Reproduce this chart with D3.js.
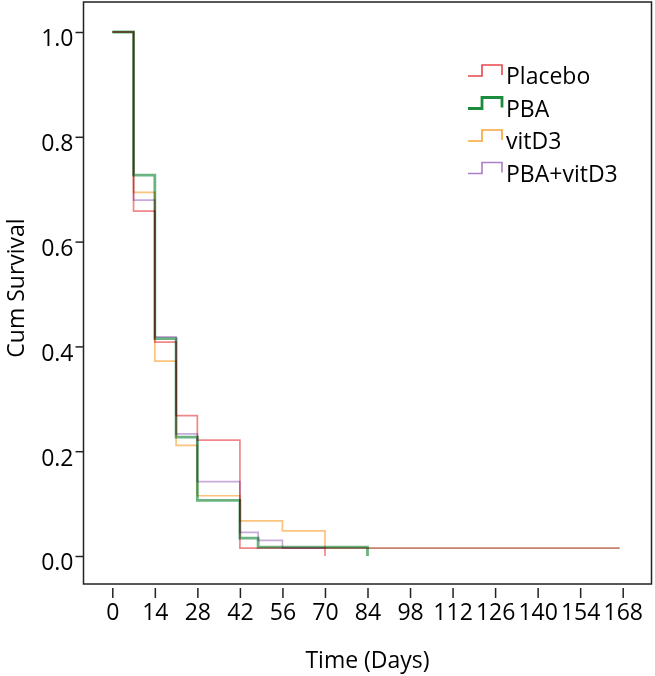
<!DOCTYPE html>
<html>
<head>
<meta charset="utf-8">
<script src="https://cdn.jsdelivr.net/npm/d3@7"></script>
<style>
  body { margin: 0; background: #fff; }
  svg text { font-family: "Open Sans", sans-serif; fill: #000; }
</style>
</head>
<body>
<div id="chart"></div>
<script>
// Kaplan-Meier style step curves
const groups = ['Placebo', 'PBA', 'vitD3', 'PBA+vitD3'];
const colors = ['#e8464b', '#1b8c3e', '#f7a439', '#ac7ec8'];

const placeboTimes = [0, 7, 14, 21, 28, 42, 70];
const placeboSurv = [1, 0.658, 0.408, 0.268, 0.221, 0.015, 0];

const pbaTimes = [0, 7, 14, 21, 28, 42, 48, 84];
const pbaSurv = [1, 0.727, 0.415, 0.227, 0.106, 0.034, 0.017, 0];

const vitTimes = [0, 7, 14, 21, 28, 42, 56, 70, 167];
const vitSurv = [1, 0.694, 0.372, 0.211, 0.115, 0.067, 0.048, 0.015, 0.015];

const comboTimes = [0, 7, 14, 21, 28, 42, 48, 56, 167];
const comboSurv = [1, 0.679, 0.418, 0.233, 0.142, 0.045, 0.030, 0.015, 0.015];

const xTicks = [0, 14, 28, 42, 56, 70, 84, 98, 112, 126, 140, 154, 168];
const yTicks = [0, 0.2, 0.4, 0.6, 0.8, 1.0];

const width = 655, height = 676;
const frame = { left: 83.5, top: 2, right: 651.5, bottom: 584 };
const fontSize = '23px';

const svg = d3.select('#chart').append('svg')
  .attr('width', width)
  .attr('height', height);

const x = d3.scaleLinear().domain([0, 168]).range([112.3, 622.7]);
const y = d3.scaleLinear().domain([0, 1]).range([556, 32]);

// frame
svg.append('rect')
  .attr('x', frame.left)
  .attr('y', frame.top)
  .attr('width', frame.right - frame.left)
  .attr('height', frame.bottom - frame.top)
  .attr('fill', 'none')
  .attr('stroke', '#222')
  .attr('stroke-width', 1.5);

// y axis (ticks attached to frame)
const yAxis = d3.axisLeft(y)
  .tickValues(yTicks)
  .tickFormat(d3.format('.1f'))
  .tickSize(8)
  .tickPadding(2);

const gy = svg.append('g')
  .attr('transform', `translate(${frame.left},0)`)
  .call(yAxis);
gy.select('.domain').remove();
gy.selectAll('line').attr('stroke', '#222').attr('stroke-width', 1.5);
gy.selectAll('text')
  .attr('font-size', fontSize)
  .attr('dy', '0.6em')
  .style('font-family', '"Open Sans", sans-serif')
  .style('fill', '#000');

// x axis, slightly detached below the frame
const xAxis = d3.axisBottom(x)
  .tickValues(xTicks)
  .tickSize(10)
  .tickPadding(6);

const gx = svg.append('g')
  .attr('transform', `translate(0,${frame.bottom + 4})`)
  .call(xAxis);
gx.select('.domain').remove();
gx.selectAll('line').attr('stroke', '#222').attr('stroke-width', 1.5);
gx.selectAll('text')
  .attr('font-size', fontSize)
  .style('font-family', '"Open Sans", sans-serif')
  .style('fill', '#000');

// axis titles
svg.append('text')
  .attr('x', (x(0) + x(168)) / 2)
  .attr('y', 668)
  .attr('text-anchor', 'middle')
  .attr('font-size', fontSize)
  .text('Time (Days)');

svg.append('text')
  .attr('transform', `translate(24,288) rotate(-90)`)
  .attr('text-anchor', 'middle')
  .attr('font-size', fontSize)
  .text('Cum Survival');

// curves, multiplied together so overlaps darken to brown as in the original
const series = [
  { name: groups[1], times: pbaTimes, surv: pbaSurv, color: colors[1], w: 2.8 },
  { name: groups[3], times: comboTimes, surv: comboSurv, color: colors[3], w: 1.7 },
  { name: groups[2], times: vitTimes, surv: vitSurv, color: colors[2], w: 1.7 },
  { name: groups[0], times: placeboTimes, surv: placeboSurv, color: colors[0], w: 1.7 },
];

const line = d3.line()
  .x(d => x(d[0]))
  .y(d => y(d[1]))
  .curve(d3.curveStepAfter);

svg.append('g').attr('class', 'curves')
  .style('isolation', 'isolate')
  .selectAll('path')
  .data(series)
  .enter()
  .append('path')
  .attr('d', d => line(d.times.map((t, i) => [t, d.surv[i]])))
  .attr('fill', 'none')
  .attr('stroke', d => d.color)
  .attr('stroke-width', d => d.w)
  .attr('stroke-opacity', 0.65)
  .style('mix-blend-mode', 'multiply');

// legend
const legend = svg.append('g').attr('class', 'legend');
groups.forEach((g, i) => {
  const cy = 76 + i * 32.5;
  legend.append('path')
    .attr('d', `M468,${cy} H482 V${cy - 11} H502 V${cy - 1}`)
    .attr('fill', 'none')
    .attr('stroke', colors[i])
    .attr('stroke-width', i === 1 ? 2.8 : 1.6);
  legend.append('text')
    .attr('x', 506)
    .attr('y', cy)
    .attr('dy', '0.35em')
    .attr('font-size', fontSize)
    .text(g);
});
</script>
</body>
</html>
